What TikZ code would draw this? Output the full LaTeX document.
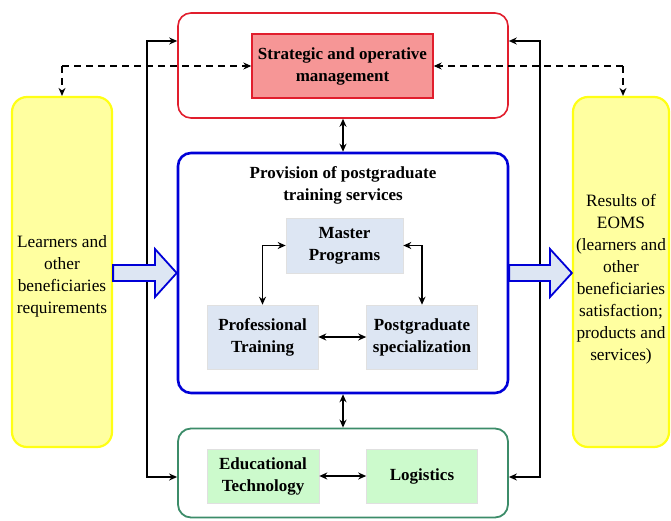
\documentclass[tikz,border=0pt]{standalone}
\usepackage{fontspec}
\setmainfont{Liberation Serif}
\usetikzlibrary{arrows.meta,calc}
\definecolor{redb}{RGB}{225,30,45}
\definecolor{pinkf}{RGB}{246,150,150}
\definecolor{blueb}{RGB}{0,0,215}
\definecolor{lblue}{RGB}{221,230,243}
\definecolor{yelb}{RGB}{255,255,20}
\definecolor{yelf}{RGB}{255,255,160}
\definecolor{greenb}{RGB}{60,140,105}
\definecolor{lgreen}{RGB}{204,250,204}
\tikzset{
  bigbox/.style={rounded corners=13pt, line width=1.6pt},
  sidebox/.style={draw=yelb, fill=yelf, line width=2.2pt, rounded corners=15pt},
  inbox/.style={draw=black!12, fill=lblue, line width=0.6pt},
  grbox/.style={draw=black!12, fill=lgreen, line width=0.6pt},
  btxt/.style={font=\fontsize{17}{22}\selectfont\bfseries, align=center},
  ntxt/.style={font=\fontsize{17.3}{22}\selectfont, align=center},
  conn/.style={line width=1.3pt, -{Stealth[length=8pt,width=7pt]}},
  dconn/.style={line width=1.3pt, {Stealth[length=8pt,width=7pt]}-{Stealth[length=8pt,width=7pt]}},
  dashln/.style={line width=1.1pt, dash pattern=on 7pt off 5pt, -{Stealth[length=8pt,width=7pt]}},
  fatarrow/.style={draw=blueb, fill=lblue, line width=1.8pt, line join=miter}
}
\begin{document}
\begin{tikzpicture}[x=1pt,y=-1pt]
\useasboundingbox (0,0) rectangle (671,521);
% big boxes
\node[bigbox, draw=redb, minimum width=330pt, minimum height=105pt] (red) at (343,65.5) {};
\node[bigbox, draw=blueb, line width=2.6pt, minimum width=330pt, minimum height=240pt] (blue) at (343,273) {};
\node[bigbox, draw=greenb, line width=1.8pt, minimum width=330pt, minimum height=89pt] (green) at (343,473) {};
% side boxes
\node[sidebox, minimum width=100pt, minimum height=350pt] (left) at (62,272) {};
\node[sidebox, minimum width=96pt, minimum height=350pt] (right) at (621,272) {};
\node[ntxt] at ([yshift=-4pt]left.center) {Learners and\\other\\beneficiaries\\requirements};
\node[ntxt] at ([yshift=-7pt]right.center) {Results of\\EOMS\\(learners and\\other\\beneficiaries\\satisfaction;\\products and\\services)};
% pink box
\node[draw=redb, fill=pinkf, line width=1.4pt, minimum width=181pt, minimum height=64pt, btxt] (strat) at (342.5,66) {Strategic and operative\\management};
% blue title
\node[btxt] (title) at (343,185) {Provision of postgraduate\\training services};
% inner boxes
\node[inbox, minimum width=117pt, minimum height=55pt, btxt] (master) at (344.5,245.5) {Master\\Programs};
\node[inbox, minimum width=111pt, minimum height=64pt, btxt] (prof) at (262.5,337) {Professional\\Training};
\node[inbox, minimum width=111pt, minimum height=64pt, btxt] (post) at (422,337) {Postgraduate\\specialization};
\node[grbox, minimum width=112pt, minimum height=54pt, btxt] (edu) at (263,476) {Educational\\Technology};
\node[grbox, minimum width=111pt, minimum height=54pt, btxt] (log) at (422,476) {Logistics};
% connectors inner
\draw[dconn] (master.west) -| (prof.north);
\draw[dconn] (master.east) -| (post.north);
\draw[dconn] (prof.east) -- (post.west);
\draw[dconn] (edu.east) -- (log.west);
\draw[dconn] (red.south) -- (blue.north);
\draw[dconn] (blue.south) -- (green.north);
% black side loops
\coordinate (lt) at (147,41);
\coordinate (lb) at (147,477);
\coordinate (rt) at (540,41);
\coordinate (rb) at (540,477);
\draw[conn] (lb) -- (lt) -- (red.west |- lt);
\draw[conn] (lt) |- (green.west |- lb);
\draw[conn] (rb) -- (rt) -- (red.east |- rt);
\draw[conn] (rt) |- (green.east |- rb);
% dashed
\coordinate (dl) at (62,66);
\coordinate (dr) at (623,66);
\draw[dashln] (dl) -- (strat.west);
\draw[dashln] (dl) -- (left.north -| dl);
\draw[dashln] (dr) -- (strat.east);
\draw[dashln] (dr) -- (right.north -| dr);
% fat arrows
\draw[fatarrow] (left.east |- 0,265) -- (155,265) -- (155,249) -- (blue.west |- 0,273) -- (155,297) -- (155,281) -- (left.east |- 0,281) -- cycle;
\draw[fatarrow] (blue.east |- 0,265) -- (550,265) -- (550,249) -- (right.west |- 0,273) -- (550,297) -- (550,281) -- (blue.east |- 0,281) -- cycle;
\end{tikzpicture}
\end{document}
